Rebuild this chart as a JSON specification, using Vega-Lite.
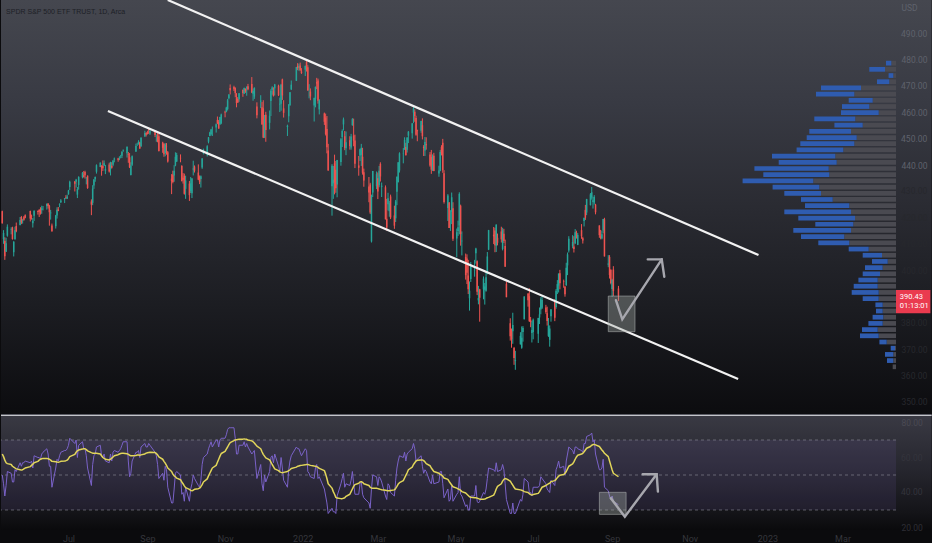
{
"$schema":"https://vega.github.io/schema/vega-lite/v6.json",
"padding":0,
"background":"#0b0b0d",
"spacing":0,
"bounds":"flush",
"config":{"view":{"stroke":null},"axis":{"zindex":1,"labelOverlap":false,"labelBound":false},"axisY":{"labelOverlap":false},"axisQuantitative":{"labelOverlap":false},"scale":{"continuousPadding":0}},
"datasets":{
"px":[
{"d":"2021-05-10","o":422.5,"h":422.7,"l":417.8,"c":417.9,"r":50,"m":62},
{"d":"2021-05-11","o":411.9,"h":415.3,"l":410.1,"c":414.2,"r":45,"m":60.5},
{"d":"2021-05-12","o":411.2,"h":412.6,"l":404,"c":405.4,"r":38,"m":58.5},
{"d":"2021-05-13","o":407.1,"h":412.4,"l":407,"c":410.3,"r":44,"m":57},
{"d":"2021-05-14","o":413.2,"h":417.5,"l":412.8,"c":416.6,"r":52,"m":56.5},
{"d":"2021-05-17","o":415.4,"h":416.4,"l":413.7,"c":415.5,"r":51,"m":56},
{"d":"2021-05-18","o":416.3,"h":416.6,"l":411.7,"c":411.9,"r":46,"m":55},
{"d":"2021-05-19","o":406.9,"h":411.1,"l":405.3,"c":410.9,"r":46,"m":54.5},
{"d":"2021-05-20","o":411.8,"h":416.6,"l":411.7,"c":415.3,"r":53,"m":54},
{"d":"2021-05-21","o":416.9,"h":418.2,"l":414.5,"c":414.9,"r":52,"m":53.5},
{"d":"2021-05-24","o":417.3,"h":420.3,"l":417.1,"c":419.2,"r":57,"m":53},
{"d":"2021-05-25","o":420.3,"h":420.7,"l":417.6,"c":418.2,"r":55,"m":52.8},
{"d":"2021-05-26","o":418.9,"h":419.6,"l":417.8,"c":419.1,"r":57,"m":53},
{"d":"2021-05-27","o":420.2,"h":420.7,"l":418.9,"c":419.3,"r":57,"m":53.5},
{"d":"2021-05-28","o":421,"h":421.3,"l":419.8,"c":420,"r":58,"m":54},
{"d":"2021-06-01","o":422.6,"h":422.7,"l":418.6,"c":419.7,"r":57,"m":54.8},
{"d":"2021-06-02","o":420.4,"h":421.2,"l":419.3,"c":420.3,"r":58,"m":55.5},
{"d":"2021-06-03","o":417.9,"h":419.9,"l":416.3,"c":418.8,"r":54,"m":56.2},
{"d":"2021-06-04","o":420.8,"h":422.9,"l":418.8,"c":422.6,"r":61,"m":57},
{"d":"2021-06-07","o":422.6,"h":422.8,"l":421.2,"c":422.2,"r":60,"m":57.8},
{"d":"2021-06-08","o":423.1,"h":423.2,"l":420.3,"c":422.3,"r":60,"m":58.5},
{"d":"2021-06-09","o":423.2,"h":424,"l":421.2,"c":421.7,"r":59,"m":59},
{"d":"2021-06-10","o":423,"h":424.6,"l":421.5,"c":423.6,"r":62,"m":59.3},
{"d":"2021-06-11","o":424.2,"h":424.4,"l":422.8,"c":424.3,"r":63,"m":59.5},
{"d":"2021-06-14","o":424.4,"h":425.4,"l":423.1,"c":425.3,"r":65,"m":59.5},
{"d":"2021-06-15","o":425.4,"h":425.5,"l":423.5,"c":424.5,"r":62,"m":59.3},
{"d":"2021-06-16","o":424.6,"h":424.9,"l":417,"c":422.1,"r":55,"m":59},
{"d":"2021-06-17","o":421.7,"h":423,"l":419.3,"c":422,"r":55,"m":58.5},
{"d":"2021-06-18","o":417.1,"h":417.8,"l":414.7,"c":414.9,"r":43,"m":57.8},
{"d":"2021-06-21","o":416.8,"h":421.1,"l":415.9,"c":420.9,"r":54,"m":57.6},
{"d":"2021-06-22","o":420.9,"h":424,"l":419.7,"c":423.1,"r":59,"m":57.4},
{"d":"2021-06-23","o":423.2,"h":424.1,"l":422.5,"c":422.6,"r":58,"m":57.3},
{"d":"2021-06-24","o":424.9,"h":425.5,"l":424,"c":425.1,"r":61,"m":57.5},
{"d":"2021-06-25","o":425.9,"h":427.1,"l":425.6,"c":426.6,"r":63,"m":57.8},
{"d":"2021-06-28","o":427.2,"h":427.5,"l":425.6,"c":427.5,"r":64,"m":58},
{"d":"2021-06-29","o":427.9,"h":428.6,"l":427.1,"c":427.7,"r":64,"m":58.2},
{"d":"2021-06-30","o":427.2,"h":428.8,"l":427.2,"c":428.1,"r":65,"m":58.5},
{"d":"2021-07-01","o":428.9,"h":430.6,"l":428.8,"c":430.4,"r":67,"m":59.3},
{"d":"2021-07-02","o":431.7,"h":434.1,"l":430.5,"c":433.7,"r":71,"m":60.5},
{"d":"2021-07-06","o":433.8,"h":434,"l":430,"c":432.9,"r":68,"m":61.8},
{"d":"2021-07-07","o":433.7,"h":434.8,"l":431.5,"c":434.5,"r":70,"m":63},
{"d":"2021-07-08","o":428.8,"h":431.7,"l":427.5,"c":430.9,"r":60,"m":63.8},
{"d":"2021-07-09","o":432.5,"h":435.8,"l":430.7,"c":435.5,"r":67,"m":64.3},
{"d":"2021-07-12","o":435.4,"h":437.4,"l":435,"c":437.1,"r":69,"m":64.8},
{"d":"2021-07-13","o":436.2,"h":437.8,"l":435.3,"c":435.6,"r":65,"m":65},
{"d":"2021-07-14","o":437.4,"h":437.9,"l":434.9,"c":436.2,"r":65,"m":65},
{"d":"2021-07-15","o":434.8,"h":435.5,"l":432.7,"c":434.8,"r":61,"m":64.5},
{"d":"2021-07-16","o":436,"h":436.1,"l":431,"c":431.3,"r":54,"m":63.8},
{"d":"2021-07-19","o":426.2,"h":427,"l":421,"c":425,"r":44,"m":62.8},
{"d":"2021-07-20","o":425.7,"h":432.4,"l":424.8,"c":431.1,"r":56,"m":62.5},
{"d":"2021-07-21","o":432.3,"h":434.7,"l":431,"c":434.6,"r":61,"m":62.5},
{"d":"2021-07-22","o":434.7,"h":435.7,"l":433.7,"c":435.5,"r":62,"m":62.4},
{"d":"2021-07-23","o":437.5,"h":440.3,"l":436.8,"c":440,"r":66,"m":62.4},
{"d":"2021-07-26","o":439.3,"h":441,"l":439.3,"c":441,"r":67,"m":62},
{"d":"2021-07-27","o":439.9,"h":439.9,"l":436,"c":439,"r":61,"m":61},
{"d":"2021-07-28","o":439.7,"h":441.8,"l":437.8,"c":438.8,"r":60,"m":60},
{"d":"2021-07-29","o":439.8,"h":441.8,"l":439.8,"c":440.7,"r":62,"m":59.5},
{"d":"2021-07-30","o":437.9,"h":440.1,"l":436.6,"c":438.5,"r":58,"m":59},
{"d":"2021-08-02","o":440.3,"h":440.9,"l":437.2,"c":437.6,"r":57,"m":58.6},
{"d":"2021-08-03","o":438.4,"h":441.3,"l":436.1,"c":441.2,"r":62,"m":59},
{"d":"2021-08-04","o":439.8,"h":441.1,"l":438.7,"c":439,"r":58,"m":59.6},
{"d":"2021-08-05","o":440.2,"h":441.9,"l":439.6,"c":441.8,"r":63,"m":60.3},
{"d":"2021-08-06","o":442.1,"h":442.9,"l":441.1,"c":442.5,"r":64,"m":61},
{"d":"2021-08-09","o":442.5,"h":442.8,"l":441.3,"c":442.1,"r":63,"m":61.6},
{"d":"2021-08-10","o":442.6,"h":443.4,"l":441.9,"c":442.7,"r":64,"m":62},
{"d":"2021-08-11","o":443.8,"h":443.9,"l":442.6,"c":443.8,"r":65,"m":62.3},
{"d":"2021-08-12","o":443.6,"h":445.3,"l":442.7,"c":445.1,"r":67,"m":62.4},
{"d":"2021-08-13","o":445.6,"h":445.9,"l":445.1,"c":445.9,"r":69,"m":62.4},
{"d":"2021-08-16","o":444.5,"h":447.1,"l":442.9,"c":447,"r":69,"m":62.2},
{"d":"2021-08-17","o":444.2,"h":445,"l":440.9,"c":444,"r":58,"m":61.8},
{"d":"2021-08-18","o":443,"h":444.6,"l":438.9,"c":439.2,"r":49,"m":61.3},
{"d":"2021-08-19","o":436.3,"h":441.1,"l":436.1,"c":439.9,"r":51,"m":61},
{"d":"2021-08-20","o":440.2,"h":443.7,"l":439.7,"c":443.4,"r":58,"m":61},
{"d":"2021-08-23","o":445.2,"h":448.2,"l":445,"c":447.3,"r":63,"m":61.2},
{"d":"2021-08-24","o":448,"h":448.5,"l":447.3,"c":448,"r":63,"m":61.4},
{"d":"2021-08-25","o":448.2,"h":449.5,"l":447.8,"c":448.9,"r":64,"m":61.4},
{"d":"2021-08-26","o":448.6,"h":448.9,"l":446.2,"c":446.3,"r":60,"m":61.3},
{"d":"2021-08-27","o":447.1,"h":450.7,"l":447.1,"c":450.3,"r":66,"m":61.5},
{"d":"2021-08-30","o":451,"h":453.1,"l":450.7,"c":452.2,"r":68,"m":62},
{"d":"2021-08-31","o":452.1,"h":452.5,"l":450.9,"c":451.6,"r":66,"m":62.5},
{"d":"2021-09-01","o":452.6,"h":453.1,"l":451.7,"c":451.8,"r":66,"m":62.7},
{"d":"2021-09-02","o":453.3,"h":454.1,"l":451.9,"c":453.2,"r":68,"m":62.9},
{"d":"2021-09-03","o":452,"h":453.6,"l":451.5,"c":453.1,"r":67,"m":63},
{"d":"2021-09-07","o":452.7,"h":453,"l":450.7,"c":451.5,"r":63,"m":62.8},
{"d":"2021-09-08","o":450.9,"h":451.7,"l":448.9,"c":450.9,"r":61,"m":62.3},
{"d":"2021-09-09","o":450.7,"h":452.6,"l":448.7,"c":449,"r":56,"m":61.5},
{"d":"2021-09-10","o":451,"h":452,"l":445.2,"c":445.4,"r":48,"m":60.3},
{"d":"2021-09-13","o":448.6,"h":448.9,"l":444.7,"c":446.6,"r":51,"m":59},
{"d":"2021-09-14","o":448.1,"h":448.3,"l":443.2,"c":444.2,"r":47,"m":57.8},
{"d":"2021-09-15","o":444.6,"h":448.4,"l":443.4,"c":447.9,"r":55,"m":56.8},
{"d":"2021-09-16","o":447.3,"h":448.4,"l":444,"c":447.2,"r":53,"m":55.5},
{"d":"2021-09-17","o":444.9,"h":445.4,"l":441,"c":441.4,"r":43,"m":54},
{"d":"2021-09-20","o":434.9,"h":436.6,"l":429,"c":434,"r":34,"m":52},
{"d":"2021-09-21","o":436.5,"h":437.9,"l":433.1,"c":433.6,"r":34,"m":50.5},
{"d":"2021-09-22","o":436.1,"h":440,"l":433.7,"c":437.9,"r":42,"m":49.5},
{"d":"2021-09-23","o":439.9,"h":444.9,"l":439.6,"c":443.2,"r":51,"m":49},
{"d":"2021-09-24","o":441.4,"h":444.7,"l":441.2,"c":443.9,"r":52,"m":48.2},
{"d":"2021-09-27","o":442.8,"h":444.1,"l":441.1,"c":442.6,"r":50,"m":47.3},
{"d":"2021-09-28","o":439.7,"h":440,"l":433.8,"c":434,"r":39,"m":46},
{"d":"2021-09-29","o":435.2,"h":437,"l":433,"c":434.5,"r":40,"m":45},
{"d":"2021-09-30","o":436,"h":436.8,"l":428.8,"c":429.1,"r":35,"m":43.8},
{"d":"2021-10-01","o":431,"h":436,"l":427.2,"c":434.2,"r":43,"m":42.8},
{"d":"2021-10-04","o":433,"h":434,"l":426.4,"c":428.6,"r":35,"m":41.8},
{"d":"2021-10-05","o":430.2,"h":435.5,"l":429.4,"c":433.1,"r":42,"m":41.2},
{"d":"2021-10-06","o":429.3,"h":435.1,"l":427.5,"c":434.9,"r":45,"m":41},
{"d":"2021-10-07","o":438.4,"h":441.7,"l":436.1,"c":438.7,"r":50,"m":41.3},
{"d":"2021-10-08","o":439.5,"h":439.9,"l":437.2,"c":437.9,"r":48,"m":41.8},
{"d":"2021-10-11","o":437.2,"h":440.3,"l":434.3,"c":434.5,"r":44,"m":42.2},
{"d":"2021-10-12","o":435.7,"h":436.1,"l":432.8,"c":433.7,"r":43,"m":42.5},
{"d":"2021-10-13","o":434.7,"h":436.1,"l":431.5,"c":435.8,"r":47,"m":43.3},
{"d":"2021-10-14","o":439.1,"h":442.7,"l":438.6,"c":442.5,"r":56,"m":44.5},
{"d":"2021-10-15","o":444.8,"h":446.3,"l":444.1,"c":445.9,"r":60,"m":46},
{"d":"2021-10-18","o":444,"h":447.6,"l":443.3,"c":447.2,"r":62,"m":47.8},
{"d":"2021-10-19","o":448.9,"h":450.7,"l":448.3,"c":450.6,"r":65,"m":49.5},
{"d":"2021-10-20","o":451.1,"h":452.7,"l":451,"c":452.4,"r":67,"m":51},
{"d":"2021-10-21","o":451.8,"h":453.8,"l":451.3,"c":453.6,"r":69,"m":52.5},
{"d":"2021-10-22","o":453.1,"h":454.7,"l":451.1,"c":453.1,"r":66,"m":54},
{"d":"2021-10-25","o":454.3,"h":455.9,"l":452.4,"c":455.6,"r":70,"m":55.5},
{"d":"2021-10-26","o":457.2,"h":458.5,"l":455.6,"c":456,"r":70,"m":57.3},
{"d":"2021-10-27","o":456.5,"h":457.2,"l":453.9,"c":453.9,"r":66,"m":59},
{"d":"2021-10-28","o":455.5,"h":458.4,"l":455.4,"c":458.3,"r":70,"m":60.8},
{"d":"2021-10-29","o":455.9,"h":459.6,"l":455.6,"c":459.3,"r":71,"m":62.3},
{"d":"2021-11-01","o":460.3,"h":460.7,"l":458.2,"c":460,"r":71,"m":63.5},
{"d":"2021-11-02","o":460.3,"h":462.2,"l":460.1,"c":461.9,"r":73,"m":64.8},
{"d":"2021-11-03","o":461.3,"h":465.2,"l":460.8,"c":464.7,"r":76,"m":66},
{"d":"2021-11-04","o":465.4,"h":467,"l":465,"c":466.9,"r":77,"m":67.3},
{"d":"2021-11-05","o":469.3,"h":470.7,"l":466.9,"c":468.5,"r":77,"m":68.5},
{"d":"2021-11-08","o":469.7,"h":470.2,"l":468.2,"c":468.9,"r":77,"m":69.6},
{"d":"2021-11-09","o":469.3,"h":469.6,"l":465.8,"c":467.4,"r":71,"m":70},
{"d":"2021-11-10","o":465.6,"h":467.4,"l":462,"c":463.6,"r":62,"m":70.2},
{"d":"2021-11-11","o":465.2,"h":465.9,"l":463.7,"c":463.8,"r":62,"m":70.3},
{"d":"2021-11-12","o":465.1,"h":467.4,"l":464.1,"c":467.3,"r":67,"m":70.4},
{"d":"2021-11-15","o":468.6,"h":468.8,"l":466,"c":467.4,"r":67,"m":70.5},
{"d":"2021-11-16","o":467.2,"h":469.5,"l":467.1,"c":469.3,"r":69,"m":70.6},
{"d":"2021-11-17","o":469,"h":469.2,"l":467.5,"c":468.1,"r":66,"m":70.5},
{"d":"2021-11-18","o":469.2,"h":470,"l":466.4,"c":469.7,"r":68,"m":70.4},
{"d":"2021-11-19","o":470,"h":470.9,"l":468.5,"c":468.9,"r":66,"m":70},
{"d":"2021-11-22","o":470.9,"h":473.5,"l":467.4,"c":467.6,"r":62,"m":69.5},
{"d":"2021-11-23","o":467.2,"h":469.1,"l":464.5,"c":468.2,"r":63,"m":69},
{"d":"2021-11-24","o":466.1,"h":469.6,"l":465.2,"c":469.4,"r":64,"m":68.3},
{"d":"2021-11-26","o":462.3,"h":463.9,"l":457.8,"c":459,"r":48,"m":66.5},
{"d":"2021-11-29","o":464.1,"h":466.6,"l":461.7,"c":464.6,"r":56,"m":65},
{"d":"2021-11-30","o":462,"h":464,"l":455.3,"c":455.6,"r":45,"m":63.3},
{"d":"2021-12-01","o":461.6,"h":464.7,"l":450.3,"c":450.5,"r":41,"m":61.8},
{"d":"2021-12-02","o":450.7,"h":459.1,"l":450.3,"c":457.4,"r":50,"m":60.8},
{"d":"2021-12-03","o":459.2,"h":460.3,"l":448.9,"c":453.4,"r":46,"m":59.8},
{"d":"2021-12-06","o":456.1,"h":460.8,"l":453.6,"c":458.8,"r":52,"m":58.6},
{"d":"2021-12-07","o":464.4,"h":468.9,"l":458.7,"c":468.3,"r":60,"m":57.3},
{"d":"2021-12-08","o":468.7,"h":470,"l":466.8,"c":469.5,"r":61,"m":56},
{"d":"2021-12-09","o":468.1,"h":469.6,"l":466.1,"c":466.4,"r":57,"m":54.8},
{"d":"2021-12-10","o":469.2,"h":470.9,"l":466.5,"c":470.7,"r":62,"m":53.5},
{"d":"2021-12-13","o":470.2,"h":470.6,"l":466.3,"c":466.6,"r":55,"m":52.5},
{"d":"2021-12-14","o":463.1,"h":465.7,"l":460.2,"c":463.4,"r":52,"m":51.8},
{"d":"2021-12-15","o":463.4,"h":470.9,"l":460.7,"c":470.6,"r":60,"m":51.5},
{"d":"2021-12-16","o":472.6,"h":472.9,"l":464.8,"c":466.5,"r":54,"m":51.3},
{"d":"2021-12-17","o":461.6,"h":464.7,"l":458.1,"c":459.9,"r":47,"m":51.5},
{"d":"2021-12-20","o":454.5,"h":455.4,"l":451.1,"c":455,"r":43,"m":52},
{"d":"2021-12-21","o":458.6,"h":463.2,"l":456.3,"c":463.1,"r":53,"m":52.5},
{"d":"2021-12-22","o":462.8,"h":467.8,"l":462.6,"c":467.7,"r":58,"m":53},
{"d":"2021-12-23","o":468.8,"h":472.2,"l":468.6,"c":470.6,"r":61,"m":53.7},
{"d":"2021-12-27","o":472.1,"h":477.3,"l":472,"c":477.3,"r":66,"m":54.5},
{"d":"2021-12-28","o":477.7,"h":478.8,"l":476.1,"c":476.9,"r":65,"m":55},
{"d":"2021-12-29","o":477,"h":478.6,"l":475.9,"c":477.5,"r":65,"m":55.2},
{"d":"2021-12-30","o":477.9,"h":479,"l":475.7,"c":476.2,"r":63,"m":55.4},
{"d":"2021-12-31","o":475.6,"h":476.9,"l":474.7,"c":475,"r":61,"m":55.5},
{"d":"2022-01-03","o":476.3,"h":477.9,"l":473.9,"c":477.7,"r":65,"m":55.8},
{"d":"2022-01-04","o":479.2,"h":480,"l":475.6,"c":477.6,"r":64,"m":56},
{"d":"2022-01-05","o":477.2,"h":478,"l":468.3,"c":468.4,"r":52,"m":56},
{"d":"2022-01-06","o":467.9,"h":470.8,"l":465.4,"c":467.9,"r":51,"m":55.8},
{"d":"2022-01-07","o":468,"h":469.2,"l":464.7,"c":466.1,"r":49,"m":55.5},
{"d":"2022-01-10","o":462.7,"h":465.7,"l":456.6,"c":465.5,"r":48,"m":55.1},
{"d":"2022-01-11","o":465.2,"h":469.9,"l":462,"c":469.8,"r":54,"m":55},
{"d":"2022-01-12","o":471.6,"h":473.2,"l":468.9,"c":471,"r":56,"m":54.8},
{"d":"2022-01-13","o":472.2,"h":472.9,"l":463.4,"c":464.5,"r":48,"m":54.4},
{"d":"2022-01-14","o":461.2,"h":465.1,"l":459.3,"c":464.7,"r":49,"m":53.8},
{"d":"2022-01-18","o":459.7,"h":460,"l":455.3,"c":456.5,"r":42,"m":52.5},
{"d":"2022-01-19","o":458.1,"h":459.6,"l":451.3,"c":451.8,"r":38,"m":50.5},
{"d":"2022-01-20","o":453.8,"h":458.7,"l":444.5,"c":446.8,"r":34,"m":48},
{"d":"2022-01-21","o":445.6,"h":448.1,"l":437.9,"c":438,"r":28,"m":45},
{"d":"2022-01-24","o":432,"h":440.4,"l":420.8,"c":439.8,"r":31,"m":42.5},
{"d":"2022-01-25","o":433.1,"h":439.7,"l":427.2,"c":434.5,"r":29,"m":40.5},
{"d":"2022-01-26","o":440.7,"h":444,"l":428.9,"c":433.4,"r":29,"m":39},
{"d":"2022-01-27","o":438.3,"h":441.6,"l":429.5,"c":431.2,"r":28,"m":37.2},
{"d":"2022-01-28","o":432.7,"h":442,"l":427.8,"c":442,"r":38,"m":36.8},
{"d":"2022-01-31","o":441.2,"h":450.3,"l":439.8,"c":449.9,"r":45,"m":36.5},
{"d":"2022-02-01","o":450.7,"h":453.6,"l":446.9,"c":453,"r":48,"m":36.5},
{"d":"2022-02-02","o":455.5,"h":458.1,"l":453.2,"c":457.4,"r":51,"m":36.7},
{"d":"2022-02-03","o":451,"h":453,"l":445.7,"c":446.6,"r":43,"m":37},
{"d":"2022-02-04","o":446.4,"h":452.8,"l":443.8,"c":448.7,"r":45,"m":37.8},
{"d":"2022-02-07","o":449.5,"h":451,"l":445.9,"c":447.3,"r":44,"m":39},
{"d":"2022-02-08","o":446.7,"h":451.9,"l":445.9,"c":450.9,"r":47,"m":40.5},
{"d":"2022-02-09","o":455.2,"h":457.9,"l":455,"c":457.5,"r":52,"m":42},
{"d":"2022-02-10","o":451.3,"h":457.7,"l":447.2,"c":449.3,"r":45,"m":43.5},
{"d":"2022-02-11","o":449.4,"h":451.6,"l":438.9,"c":440.5,"r":39,"m":44.5},
{"d":"2022-02-14","o":439.9,"h":443.5,"l":436,"c":439,"r":39,"m":45.3},
{"d":"2022-02-15","o":443.7,"h":446.3,"l":441.6,"c":446.1,"r":45,"m":46},
{"d":"2022-02-16","o":443.9,"h":448.1,"l":439.7,"c":446.6,"r":46,"m":46.2},
{"d":"2022-02-17","o":443.2,"h":446.6,"l":436.4,"c":437.1,"r":39,"m":45.8},
{"d":"2022-02-18","o":437.3,"h":438.7,"l":431.8,"c":434.2,"r":37,"m":45},
{"d":"2022-02-22","o":431.9,"h":435.5,"l":425.9,"c":429.6,"r":34,"m":44},
{"d":"2022-02-23","o":432.7,"h":433.3,"l":421.4,"c":422,"r":31,"m":43},
{"d":"2022-02-24","o":411,"h":428.8,"l":410.6,"c":428.3,"r":42,"m":42.5},
{"d":"2022-02-25","o":429.6,"h":437.8,"l":427.9,"c":437.8,"r":50,"m":42.4},
{"d":"2022-02-28","o":432,"h":437.6,"l":430.9,"c":436.6,"r":49,"m":42.4},
{"d":"2022-03-01","o":435,"h":437.2,"l":427.1,"c":430,"r":44,"m":42.2},
{"d":"2022-03-02","o":432.4,"h":439.7,"l":431.6,"c":437.9,"r":49,"m":42},
{"d":"2022-03-03","o":440.5,"h":441.1,"l":433.8,"c":435.7,"r":48,"m":41.8},
{"d":"2022-03-04","o":431.8,"h":433.4,"l":427.9,"c":432.2,"r":46,"m":41.6},
{"d":"2022-03-07","o":431.6,"h":432.3,"l":419.4,"c":419.4,"r":38,"m":41.3},
{"d":"2022-03-08","o":419.6,"h":427.2,"l":415.1,"c":416.3,"r":36,"m":41.1},
{"d":"2022-03-09","o":425.1,"h":429.5,"l":422.8,"c":427.4,"r":45,"m":41},
{"d":"2022-03-10","o":422.5,"h":426.4,"l":420.4,"c":425.5,"r":44,"m":41},
{"d":"2022-03-11","o":428.1,"h":428.8,"l":419.5,"c":420.1,"r":40,"m":41.2},
{"d":"2022-03-14","o":420.9,"h":424.6,"l":415.8,"c":417,"r":38,"m":41.5},
{"d":"2022-03-15","o":419.8,"h":426.8,"l":418.4,"c":426.2,"r":47,"m":42.3},
{"d":"2022-03-16","o":429.9,"h":435.7,"l":424.8,"c":435.6,"r":54,"m":43.5},
{"d":"2022-03-17","o":433.6,"h":441.1,"l":433.4,"c":441.1,"r":58,"m":44.8},
{"d":"2022-03-18","o":438,"h":444.9,"l":437.2,"c":444.5,"r":61,"m":45.6},
{"d":"2022-03-21","o":444.3,"h":446.5,"l":440.7,"c":444.4,"r":60,"m":46.8},
{"d":"2022-03-22","o":445.9,"h":450.6,"l":445.9,"c":449.6,"r":63,"m":48.3},
{"d":"2022-03-23","o":446.9,"h":448.5,"l":443.7,"c":443.8,"r":58,"m":49.8},
{"d":"2022-03-24","o":445.9,"h":450.6,"l":444.8,"c":450.5,"r":62,"m":51.3},
{"d":"2022-03-25","o":451.2,"h":453,"l":448.4,"c":452.7,"r":63,"m":53},
{"d":"2022-03-28","o":452.1,"h":455.9,"l":450.1,"c":455.9,"r":65,"m":54.5},
{"d":"2022-03-29","o":460,"h":462.1,"l":456,"c":461.6,"r":68,"m":56},
{"d":"2022-03-30","o":460.3,"h":461.2,"l":456.5,"c":458.7,"r":65,"m":57},
{"d":"2022-03-31","o":457.9,"h":458.8,"l":451.2,"c":451.6,"r":58,"m":58},
{"d":"2022-04-01","o":453.3,"h":453.5,"l":449.1,"c":452.9,"r":59,"m":58.4},
{"d":"2022-04-04","o":453.1,"h":456.9,"l":452.3,"c":456.8,"r":61,"m":58.6},
{"d":"2022-04-05","o":455.2,"h":457.8,"l":449.8,"c":451,"r":55,"m":58.6},
{"d":"2022-04-06","o":446.9,"h":447.6,"l":443.5,"c":446.5,"r":51,"m":58.2},
{"d":"2022-04-07","o":445.6,"h":450.7,"l":443.5,"c":448.8,"r":53,"m":57.5},
{"d":"2022-04-08","o":448,"h":450.6,"l":445.9,"c":447.6,"r":52,"m":56.5},
{"d":"2022-04-11","o":444.1,"h":445,"l":439.4,"c":439.9,"r":46,"m":55.3},
{"d":"2022-04-12","o":443.1,"h":445.8,"l":436.7,"c":438.3,"r":45,"m":54},
{"d":"2022-04-13","o":438,"h":444.1,"l":437.8,"c":443.3,"r":50,"m":53},
{"d":"2022-04-14","o":443.6,"h":444.7,"l":437.7,"c":437.8,"r":45,"m":52},
{"d":"2022-04-18","o":436.8,"h":439.8,"l":435.6,"c":438,"r":46,"m":51},
{"d":"2022-04-19","o":437.9,"h":445.8,"l":437.7,"c":445,"r":52,"m":50.4},
{"d":"2022-04-20","o":446.9,"h":447.6,"l":443.7,"c":444.7,"r":52,"m":50},
{"d":"2022-04-21","o":448.5,"h":450,"l":437.1,"c":438.1,"r":45,"m":49.3},
{"d":"2022-04-22","o":436.9,"h":438.1,"l":425.4,"c":426,"r":37,"m":48.3},
{"d":"2022-04-25","o":423.7,"h":429,"l":418.8,"c":428.5,"r":42,"m":47.5},
{"d":"2022-04-26","o":425.8,"h":426,"l":416.1,"c":416.1,"r":35,"m":46.3},
{"d":"2022-04-27","o":417.2,"h":422.9,"l":415,"c":417.3,"r":36,"m":45.3},
{"d":"2022-04-28","o":422.3,"h":429.6,"l":417.6,"c":427.8,"r":44,"m":44.3},
{"d":"2022-04-29","o":423.6,"h":425.9,"l":411.2,"c":412,"r":35,"m":43.3},
{"d":"2022-05-02","o":412.1,"h":415.9,"l":405,"c":414.5,"r":39,"m":42.5},
{"d":"2022-05-03","o":415,"h":418.9,"l":413.1,"c":416.4,"r":40,"m":42},
{"d":"2022-05-04","o":417.1,"h":429.7,"l":413.7,"c":429.1,"r":49,"m":41.8},
{"d":"2022-05-05","o":424.6,"h":425,"l":409.4,"c":413.8,"r":39,"m":41.2},
{"d":"2022-05-06","o":411.1,"h":414.8,"l":405.7,"c":411.3,"r":38,"m":40.5},
{"d":"2022-05-09","o":405.1,"h":406.4,"l":396.5,"c":398.2,"r":32,"m":39.7},
{"d":"2022-05-10","o":404.5,"h":406.1,"l":394.8,"c":399.1,"r":33,"m":39},
{"d":"2022-05-11","o":398.1,"h":404,"l":391,"c":392.8,"r":30,"m":38.3},
{"d":"2022-05-12","o":389.4,"h":395.8,"l":384.7,"c":392.3,"r":30,"m":37.6},
{"d":"2022-05-13","o":396.7,"h":403.2,"l":395.6,"c":401.7,"r":38,"m":37.3},
{"d":"2022-05-16","o":400,"h":404,"l":397.6,"c":400.1,"r":38,"m":37},
{"d":"2022-05-17","o":406.5,"h":408.6,"l":402.6,"c":408.3,"r":44,"m":37},
{"d":"2022-05-18","o":403.5,"h":403.8,"l":390.6,"c":391.9,"r":35,"m":36.8},
{"d":"2022-05-19","o":388.6,"h":394.1,"l":387.1,"c":389.5,"r":34,"m":36.5},
{"d":"2022-05-20","o":392.8,"h":393,"l":380.5,"c":389.6,"r":35,"m":36.2},
{"d":"2022-05-23","o":392.8,"h":397.7,"l":389,"c":396.9,"r":40,"m":36.2},
{"d":"2022-05-24","o":392.6,"h":395.2,"l":387,"c":393.9,"r":39,"m":36.3},
{"d":"2022-05-25","o":392.3,"h":399.5,"l":391.9,"c":397.4,"r":42,"m":36.6},
{"d":"2022-05-26","o":398.7,"h":407,"l":398.5,"c":405.3,"r":48,"m":37},
{"d":"2022-05-27","o":407.9,"h":415.4,"l":407.7,"c":415.3,"r":54,"m":37.2},
{"d":"2022-05-31","o":413.6,"h":416.5,"l":410,"c":412.9,"r":53,"m":38.5},
{"d":"2022-06-01","o":415.2,"h":416.2,"l":406.9,"c":409.6,"r":52,"m":40},
{"d":"2022-06-02","o":409.4,"h":417.4,"l":407,"c":417.4,"r":57,"m":42},
{"d":"2022-06-03","o":412.4,"h":414,"l":409.5,"c":410.5,"r":52,"m":43.5},
{"d":"2022-06-06","o":414.8,"h":416.6,"l":410.6,"c":411.8,"r":53,"m":45},
{"d":"2022-06-07","o":408.1,"h":416.2,"l":407.6,"c":415.3,"r":56,"m":46.5},
{"d":"2022-06-08","o":413.9,"h":415.8,"l":410.4,"c":411.2,"r":53,"m":47.5},
{"d":"2022-06-09","o":409.3,"h":411.7,"l":401.4,"c":401.4,"r":45,"m":48},
{"d":"2022-06-10","o":394.9,"h":395.8,"l":389.8,"c":389.8,"r":36,"m":47.8},
{"d":"2022-06-13","o":379.9,"h":381.8,"l":373.3,"c":375,"r":28,"m":46.5},
{"d":"2022-06-14","o":376.9,"h":377.9,"l":370.6,"c":373.9,"r":28,"m":45.3},
{"d":"2022-06-15","o":376.9,"h":383.9,"l":372.1,"c":379.2,"r":34,"m":44.2},
{"d":"2022-06-16","o":370.5,"h":370.9,"l":364.1,"c":366.7,"r":28,"m":43},
{"d":"2022-06-17","o":365.5,"h":369.4,"l":362.2,"c":365.9,"r":28,"m":42},
{"d":"2022-06-21","o":371.9,"h":376.5,"l":371.8,"c":375.1,"r":36,"m":41.5},
{"d":"2022-06-22","o":370.6,"h":378.7,"l":370.2,"c":374.4,"r":35,"m":41.3},
{"d":"2022-06-23","o":376.6,"h":378.8,"l":372.9,"c":378.1,"r":39,"m":41},
{"d":"2022-06-24","o":381.4,"h":390.1,"l":381.4,"c":390.1,"r":48,"m":40.5},
{"d":"2022-06-27","o":391.1,"h":391.4,"l":386.2,"c":388.6,"r":46,"m":40},
{"d":"2022-06-28","o":390.2,"h":393.2,"l":380.4,"c":380.7,"r":40,"m":39.3},
{"d":"2022-06-29","o":381.2,"h":382.3,"l":378.4,"c":380.3,"r":40,"m":38.8},
{"d":"2022-06-30","o":376.2,"h":380.7,"l":372.6,"c":377.3,"r":38,"m":38.6},
{"d":"2022-07-01","o":376.6,"h":381.7,"l":373.8,"c":381.2,"r":43,"m":38.8},
{"d":"2022-07-05","o":375.9,"h":382,"l":372.4,"c":381.9,"r":43,"m":39.5},
{"d":"2022-07-06","o":382.1,"h":385.9,"l":379.6,"c":383.3,"r":44,"m":40.5},
{"d":"2022-07-07","o":385.1,"h":389.8,"l":383.3,"c":389,"r":49,"m":41.8},
{"d":"2022-07-08","o":385.8,"h":390.6,"l":385.3,"c":388.7,"r":48,"m":43},
{"d":"2022-07-11","o":385.9,"h":386.9,"l":383.5,"c":384.2,"r":45,"m":44},
{"d":"2022-07-12","o":383.7,"h":386.2,"l":379,"c":380.8,"r":42,"m":44.5},
{"d":"2022-07-13","o":375.1,"h":381.9,"l":374.7,"c":378.8,"r":41,"m":45},
{"d":"2022-07-14","o":373.6,"h":379.1,"l":371,"c":377.9,"r":40,"m":45.3},
{"d":"2022-07-15","o":382.6,"h":385.3,"l":380.5,"c":385.1,"r":47,"m":46.2},
{"d":"2022-07-18","o":388.4,"h":389.1,"l":380.7,"c":382,"r":44,"m":46.8},
{"d":"2022-07-19","o":386.1,"h":392.9,"l":385.4,"c":392.3,"r":53,"m":47.5},
{"d":"2022-07-20","o":392.5,"h":396.3,"l":391,"c":394.8,"r":55,"m":48.5},
{"d":"2022-07-21","o":394.2,"h":398.8,"l":391.6,"c":398.8,"r":58,"m":49.3},
{"d":"2022-07-22","o":398.9,"h":400.2,"l":392.8,"c":395.1,"r":54,"m":49.8},
{"d":"2022-07-25","o":395.8,"h":396.5,"l":393.4,"c":395.6,"r":55,"m":50.3},
{"d":"2022-07-26","o":393.8,"h":394.1,"l":390,"c":390.9,"r":50,"m":51},
{"d":"2022-07-27","o":394.4,"h":402.9,"l":394.1,"c":401,"r":58,"m":52},
{"d":"2022-07-28","o":401.9,"h":406.8,"l":398.2,"c":406.1,"r":62,"m":53.5},
{"d":"2022-07-29","o":407.6,"h":413,"l":406.8,"c":412,"r":66,"m":55},
{"d":"2022-08-01","o":409.2,"h":413.4,"l":408.4,"c":410.8,"r":64,"m":56.3},
{"d":"2022-08-02","o":409.1,"h":413,"l":406.8,"c":408.1,"r":62,"m":57.5},
{"d":"2022-08-03","o":410.3,"h":415.7,"l":410,"c":414.5,"r":66,"m":59},
{"d":"2022-08-04","o":414.4,"h":415.1,"l":412.1,"c":414.2,"r":66,"m":60.3},
{"d":"2022-08-05","o":409.7,"h":414.2,"l":409.6,"c":413.5,"r":65,"m":61.3},
{"d":"2022-08-08","o":415.3,"h":417.6,"l":412,"c":413,"r":64,"m":62},
{"d":"2022-08-09","o":412.2,"h":412.8,"l":410.2,"c":411.4,"r":63,"m":62.4},
{"d":"2022-08-10","o":418.8,"h":420,"l":416.7,"c":420,"r":68,"m":63.3},
{"d":"2022-08-11","o":423,"h":424.9,"l":419.2,"c":420,"r":68,"m":64.3},
{"d":"2022-08-12","o":422,"h":427.2,"l":421,"c":427.1,"r":72,"m":65.3},
{"d":"2022-08-15","o":424.8,"h":429.4,"l":424.7,"c":428.9,"r":73,"m":66.3},
{"d":"2022-08-16","o":427.7,"h":431.7,"l":426.9,"c":429.7,"r":74,"m":67},
{"d":"2022-08-17","o":426,"h":428,"l":423.5,"c":426.7,"r":69,"m":67.4},
{"d":"2022-08-18","o":425.8,"h":428.6,"l":425,"c":427.9,"r":70,"m":67.5},
{"d":"2022-08-19","o":425,"h":425.3,"l":421.3,"c":422.1,"r":62,"m":67.2},
{"d":"2022-08-22","o":417.1,"h":417.1,"l":412.4,"c":413.4,"r":53,"m":66.3},
{"d":"2022-08-23","o":412.9,"h":415.4,"l":411.8,"c":412.4,"r":53,"m":65.3},
{"d":"2022-08-24","o":412.1,"h":415.1,"l":411.8,"c":413.7,"r":54,"m":64.3},
{"d":"2022-08-25","o":415.2,"h":419.6,"l":414.1,"c":419.5,"r":59,"m":63.5},
{"d":"2022-08-26","o":419.4,"h":420,"l":405.3,"c":405.3,"r":43,"m":62.4},
{"d":"2022-08-29","o":402.2,"h":405.8,"l":401.2,"c":402.6,"r":41,"m":60.5},
{"d":"2022-08-30","o":405.1,"h":405.8,"l":396.9,"c":398.2,"r":38,"m":58},
{"d":"2022-08-31","o":400.2,"h":400.4,"l":394.7,"c":395.2,"r":36,"m":55.5},
{"d":"2022-09-01","o":392.9,"h":396.8,"l":390,"c":396.4,"r":38,"m":53},
{"d":"2022-09-02","o":400.3,"h":401.6,"l":390.3,"c":392.2,"r":35,"m":51},
{"d":"2022-09-06","o":393.1,"h":394.1,"l":388.4,"c":390.43,"r":33,"m":49}
],
"vp":[
{"lo":477.9,"hi":479.7,"up":5.3,"dn":4.7},
{"lo":475.54,"hi":477.34,"up":15.7,"dn":11},
{"lo":473.18,"hi":474.98,"up":4.7,"dn":2.7},
{"lo":470.83,"hi":472.63,"up":12.3,"dn":6.7},
{"lo":468.47,"hi":470.27,"up":40,"dn":35},
{"lo":466.11,"hi":467.91,"up":38.3,"dn":41.7},
{"lo":463.76,"hi":465.56,"up":24,"dn":23.3},
{"lo":461.4,"hi":463.2,"up":27.3,"dn":26.7},
{"lo":459.05,"hi":460.85,"up":37.7,"dn":17.3},
{"lo":456.69,"hi":458.49,"up":41,"dn":40.7},
{"lo":454.33,"hi":456.13,"up":28.3,"dn":33.3},
{"lo":451.98,"hi":453.78,"up":41.7,"dn":45},
{"lo":449.62,"hi":451.42,"up":50,"dn":39.3},
{"lo":447.27,"hi":449.07,"up":54,"dn":41.7},
{"lo":444.91,"hi":446.71,"up":46.7,"dn":52.7},
{"lo":442.55,"hi":444.35,"up":63.3,"dn":60.7},
{"lo":440.2,"hi":442,"up":58,"dn":59.3},
{"lo":437.84,"hi":439.64,"up":74.3,"dn":67.3},
{"lo":435.49,"hi":437.29,"up":66,"dn":66.7},
{"lo":433.13,"hi":434.93,"up":70.7,"dn":82.7},
{"lo":430.77,"hi":432.57,"up":46.7,"dn":76.7},
{"lo":428.42,"hi":430.22,"up":36.7,"dn":75},
{"lo":426.06,"hi":427.86,"up":31.7,"dn":63.3},
{"lo":423.71,"hi":425.51,"up":44.3,"dn":46.7},
{"lo":421.35,"hi":423.15,"up":66.7,"dn":45},
{"lo":418.99,"hi":420.79,"up":56.7,"dn":41},
{"lo":416.64,"hi":418.44,"up":38,"dn":42.7},
{"lo":414.28,"hi":416.08,"up":57.7,"dn":45},
{"lo":411.93,"hi":413.73,"up":43.3,"dn":51.7},
{"lo":409.57,"hi":411.37,"up":31,"dn":46.7},
{"lo":407.21,"hi":409.01,"up":20,"dn":27.3},
{"lo":404.86,"hi":406.66,"up":19.3,"dn":14},
{"lo":402.5,"hi":404.3,"up":15.7,"dn":8.3},
{"lo":400.15,"hi":401.95,"up":17.7,"dn":13.3},
{"lo":397.79,"hi":399.59,"up":17.3,"dn":16},
{"lo":395.43,"hi":397.23,"up":19.3,"dn":18.3},
{"lo":393.08,"hi":394.88,"up":24,"dn":18.3},
{"lo":390.72,"hi":392.52,"up":27,"dn":17.3},
{"lo":388.37,"hi":390.17,"up":16,"dn":17.3},
{"lo":386.01,"hi":387.81,"up":7.3,"dn":13.3},
{"lo":383.65,"hi":385.45,"up":6.7,"dn":13.3},
{"lo":381.3,"hi":383.1,"up":10.7,"dn":12.7},
{"lo":378.94,"hi":380.74,"up":14.3,"dn":13.3},
{"lo":376.59,"hi":378.39,"up":15.7,"dn":18.3},
{"lo":374.23,"hi":376.03,"up":18.7,"dn":17.3},
{"lo":371.87,"hi":373.67,"up":7.3,"dn":9.3},
{"lo":369.52,"hi":371.32,"up":4.3,"dn":1},
{"lo":367.16,"hi":368.96,"up":8.3,"dn":2.7},
{"lo":364.81,"hi":366.61,"up":6.3,"dn":2.7},
{"lo":362.45,"hi":364.25,"up":0,"dn":3.3}
]
},
"vconcat":[
{
"width":895,"height":414,
"layer":[
{
"layer":[
{
"data":{"values":[{"a":"2021-05-09","b":"2023-05-10","t":502.8,"u":345.4}]},
"mark":{"type":"rect","fill":{"gradient":"linear","x1":0,"y1":0,"x2":0,"y2":1,"stops":[{"offset":0,"color":"#45474f"},{"offset":0.25,"color":"#383a43"},{"offset":0.5,"color":"#2a2b32"},{"offset":0.75,"color":"#1b1c21"},{"offset":1,"color":"#0c0c0f"}]}},
"encoding":{
"x":{"field":"a","type":"temporal","scale":{"domain":[{"year":2021,"month":5,"date":9,"utc":true},{"year":2023,"month":4,"date":12,"utc":true}],"padding":0},"axis":null},
"x2":{"field":"b"},
"y":{"field":"t","type":"quantitative","scale":{"domain":[345.4,502.8],"nice":false,"zero":false,"padding":0},"axis":{"orient":"right","title":null,"values":[350,360,370,380,400,410,420,430,440,450,460,470,480,490,500],"labelExpr":"datum.value == 500 ? 'USD' : format(datum.value, '.2f')","grid":false,"domain":false,"ticks":false,"labelColor":{"condition":{"test":"datum.value >= 440","value":"#5f626c"},"value":"#27282d"},"labelFontSize":8.5,"labelFont":"Roboto","labelPadding":5,"labelOverlap":false,"labelFlush":false,"labelBound":false,"zindex":1}},
"y2":{"field":"u"}
}
},
{
"data":{"name":"px"},
"mark":{"type":"rule","strokeWidth":1,"clip":true},
"encoding":{
"x":{"field":"d","type":"temporal","axis":null},
"y":{"field":"l","type":"quantitative","title":null},
"y2":{"field":"h"},
"color":{"condition":{"test":"datum.c >= datum.o","value":"#26a69a"},"value":"#ef5350"}
}
},
{
"data":{"name":"px"},
"mark":{"type":"bar","size":1.5,"clip":true},
"encoding":{
"x":{"field":"d","type":"temporal","axis":null},
"y":{"field":"o","type":"quantitative","title":null},
"y2":{"field":"c"},
"color":{"condition":{"test":"datum.c >= datum.o","value":"#26a69a"},"value":"#ef5350"}
}
},
{
"data":{"values":[{"g":"u","d":"2021-09-17","v":502.8},{"g":"u","d":"2022-12-25","v":405.84},{"g":"l","d":"2021-08-01","v":460.6},{"g":"l","d":"2022-12-09","v":358.7}]},
"mark":{"type":"line","color":"#f2f2f2","strokeWidth":2.2,"clip":true},
"encoding":{
"x":{"field":"d","type":"temporal","axis":null},
"y":{"field":"v","type":"quantitative","title":null},
"detail":{"field":"g"}
}
},
{
"data":{"values":[{"a":"2022-08-29","b":"2022-09-19","t":390.25,"u":376.7}]},
"mark":{"type":"rect","fill":"#a3aba6","fillOpacity":0.38,"stroke":"#b9bebb","strokeOpacity":0.5,"strokeWidth":1,"clip":true},
"encoding":{
"x":{"field":"a","type":"temporal","axis":null},
"x2":{"field":"b"},
"y":{"field":"t","type":"quantitative","title":null},
"y2":{"field":"u"}
}
},
{
"data":{"values":[{"g":"m1","i":0,"d":"2022-09-04","v":388.7},{"g":"m1","i":1,"d":"2022-09-09","v":381.4},{"g":"m1","i":2,"d":"2022-10-10","v":404.2},{"g":"m2","i":0,"d":"2022-09-29","v":404.2},{"g":"m2","i":1,"d":"2022-10-10","v":404.2},{"g":"m2","i":2,"d":"2022-10-12","v":397.6}]},
"mark":{"type":"line","color":"#a7a7ae","strokeWidth":2.4,"strokeCap":"round","clip":true},
"encoding":{
"x":{"field":"d","type":"temporal","axis":null},
"y":{"field":"v","type":"quantitative","title":null},
"detail":{"field":"g"},
"order":{"field":"i"}
}
},
{
"data":{"values":[{"d":"2021-05-13","v":498.2,"t":"SPDR S&P 500 ETF TRUST, 1D, Arca"}]},
"mark":{"type":"text","align":"left","baseline":"middle","fontSize":7,"font":"Liberation Sans","color":"#1d1f26","clip":true},
"encoding":{
"x":{"field":"d","type":"temporal","axis":null},
"y":{"field":"v","type":"quantitative","title":null},
"text":{"field":"t"}
}
},
{
"data":{"values":[{"d":"2023-04-16","p":490,"t":"490.00"},{"d":"2023-04-16","p":470,"t":"470.00"},{"d":"2023-04-16","p":450,"t":"450.00"},{"d":"2023-04-16","p":430,"t":"430.00"},{"d":"2023-04-16","p":410,"t":"410.00"},{"d":"2023-04-16","p":380,"t":"380.00"},{"d":"2023-04-16","p":360,"t":"360.00"}]},
"mark":{"type":"text","align":"left","baseline":"middle","fontSize":8.5,"font":"Roboto"},
"encoding":{
"x":{"field":"d","type":"temporal","axis":null},
"y":{"field":"p","type":"quantitative","title":null},
"text":{"field":"t"},
"color":{"condition":{"test":"datum.p >= 440","value":"#5f626c"},"value":"#27282d"}
}
},
{
"data":{"values":[{"a":"2023-04-12","b":"2023-05-09","t":392.5,"u":383.7}]},
"mark":{"type":"rect","fill":"#ea3b4f"},
"encoding":{
"x":{"field":"a","type":"temporal","axis":null},
"x2":{"field":"b"},
"y":{"field":"t","type":"quantitative","title":null},
"y2":{"field":"u"}
}
},
{
"data":{"values":[{"d":"2023-04-15","v":389.9,"t":"390.43"},{"d":"2023-04-15","v":386.4,"t":"01:13:01"}]},
"mark":{"type":"text","align":"left","baseline":"middle","fontSize":7.5,"font":"Roboto","color":"#ffffff"},
"encoding":{
"x":{"field":"d","type":"temporal","axis":null},
"y":{"field":"v","type":"quantitative","title":null},
"text":{"field":"t"}
}
}
]
},
{
"data":{"name":"vp"},
"transform":[{"fold":["dn","up"],"as":["side","vol"]},{"stack":"vol","groupby":["lo"],"sort":[{"field":"side","order":"ascending"}],"as":["v0","v1"]}],
"mark":{"type":"rect","clip":true},
"encoding":{
"x":{"field":"v0","type":"quantitative","scale":{"domain":[0,895],"reverse":true,"padding":0},"axis":null},
"x2":{"field":"v1"},
"y":{"field":"lo","type":"quantitative","title":null},
"y2":{"field":"hi"},
"color":{"field":"side","type":"nominal","scale":{"domain":["dn","up"],"range":["#4a4a51","#2f5cb0"]},"legend":null}
}
}
],
"resolve":{"scale":{"x":"independent"}}
},
{
"width":895,"height":116,
"layer":[
{
"data":{"values":[{"a":"2021-05-09","b":"2023-05-10","t":84.86,"u":18.57}]},
"mark":{"type":"rect","fill":{"gradient":"linear","x1":0,"y1":0,"x2":0,"y2":1,"stops":[{"offset":0,"color":"#3a3a44"},{"offset":0.5,"color":"#25252d"},{"offset":0.85,"color":"#141418"},{"offset":1,"color":"#0a0a0c"}]}},
"encoding":{
"x":{"field":"a","type":"temporal","scale":{"domain":[{"year":2021,"month":5,"date":9,"utc":true},{"year":2023,"month":4,"date":12,"utc":true}],"padding":0},"axis":{"orient":"bottom","title":null,"tickCount":{"interval":"month","step":2},"labelExpr":"month(datum.value) == 0 ? timeFormat(datum.value, '%Y') : timeFormat(datum.value, '%b')","grid":false,"domain":false,"ticks":false,"labelColor":"#35363c","labelFontSize":9,"labelFont":"Roboto","labelPadding":4,"labelOverlap":false,"labelFlush":false,"zindex":1}},
"x2":{"field":"b"},
"y":{"field":"t","type":"quantitative","scale":{"domain":[18.57,84.86],"nice":false,"zero":false,"padding":0},"axis":{"orient":"right","title":null,"values":[20,80],"format":".2f","grid":false,"domain":false,"ticks":false,"labelColor":{"condition":{"test":"datum.value >= 80","value":"#4a4a54"},"value":"#2e2e35"},"labelFontSize":8.5,"labelFont":"Roboto","labelPadding":5,"labelOverlap":false,"labelFlush":false,"labelBound":false,"zindex":1}},
"y2":{"field":"u"}
}
},
{
"data":{"values":[{"t":70,"u":30}]},
"mark":{"type":"rect","fill":"#7b5fc0","fillOpacity":0.12},
"encoding":{
"y":{"field":"t","type":"quantitative","title":null},
"y2":{"field":"u"}
}
},
{
"data":{"values":[{"v":70},{"v":50},{"v":30}]},
"mark":{"type":"rule","stroke":"#8e8e99","strokeOpacity":0.6,"strokeDash":[3,3],"strokeWidth":1},
"encoding":{
"y":{"field":"v","type":"quantitative","title":null}
}
},
{
"data":{"values":[{"a":"2021-05-09","b":"2023-05-10","v":84.1}]},
"mark":{"type":"rule","stroke":"#c4c5ca","strokeWidth":1.2},
"encoding":{
"x":{"field":"a","type":"temporal","title":null},
"x2":{"field":"b"},
"y":{"field":"v","type":"quantitative","title":null}
}
},
{
"data":{"values":[{"d":"2023-04-16","p":60,"t":"60.00"},{"d":"2023-04-16","p":40,"t":"40.00"}]},
"mark":{"type":"text","align":"left","baseline":"middle","fontSize":8.5,"font":"Roboto","color":"#34343c"},
"encoding":{
"x":{"field":"d","type":"temporal","title":null},
"y":{"field":"p","type":"quantitative","title":null},
"text":{"field":"t"}
}
},
{
"data":{"name":"px"},
"mark":{"type":"line","color":"#7a62c8","strokeWidth":1,"strokeJoin":"round","clip":true},
"encoding":{
"x":{"field":"d","type":"temporal","title":null},
"y":{"field":"r","type":"quantitative","title":null}
}
},
{
"data":{"name":"px"},
"mark":{"type":"line","color":"#e2d65a","strokeWidth":1.5,"strokeJoin":"round","clip":true},
"encoding":{
"x":{"field":"d","type":"temporal","title":null},
"y":{"field":"m","type":"quantitative","title":null}
}
},
{
"data":{"values":[{"a":"2022-08-22","b":"2022-09-12","t":40.1,"u":27.5}]},
"mark":{"type":"rect","fill":"#a3aba6","fillOpacity":0.38,"stroke":"#b9bebb","strokeOpacity":0.5,"strokeWidth":1,"clip":true},
"encoding":{
"x":{"field":"a","type":"temporal","title":null},
"x2":{"field":"b"},
"y":{"field":"t","type":"quantitative","title":null},
"y2":{"field":"u"}
}
},
{
"data":{"values":[{"g":"m1","i":0,"d":"2022-08-31","v":36.7},{"g":"m1","i":1,"d":"2022-09-11","v":26.2},{"g":"m1","i":2,"d":"2022-10-06","v":50.4},{"g":"m2","i":0,"d":"2022-09-25","v":50.4},{"g":"m2","i":1,"d":"2022-10-06","v":50.4},{"g":"m2","i":2,"d":"2022-10-07","v":40.5}]},
"mark":{"type":"line","color":"#a7a7ae","strokeWidth":2.4,"strokeCap":"round","clip":true},
"encoding":{
"x":{"field":"d","type":"temporal","title":null},
"y":{"field":"v","type":"quantitative","title":null},
"detail":{"field":"g"},
"order":{"field":"i"}
}
}
]
}
],
"resolve":{"scale":{"x":"independent"}}
}
